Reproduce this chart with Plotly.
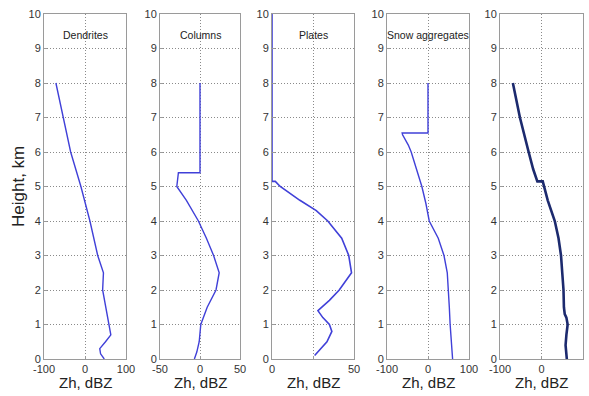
import plotly.graph_objects as go

# ---- data (height km, Zh dBZ) ----
dend_h = [8, 7, 6, 5, 4, 3, 2.7, 2.5, 2, 1.5, 1, 0.7, 0.5, 0.3, 0.15, 0]
dend_z = [-71, -53, -35, -10, 12, 31, 40, 45, 43, 50, 57, 63, 50, 36, 38, 47]

col_h = [8, 5.4, 5.4, 5.0, 4.6, 4, 3.5, 3, 2.5, 2, 1.5, 1, 0.5, 0.2, 0]
col_z = [0, 0, -27, -29, -17, -2, 8, 17, 24, 20, 9, 1, -1, -4, -7]

pla_h = [10, 5.15, 5.15, 5.0, 4.6, 4.3, 4, 3.5, 3, 2.5, 2, 1.7, 1.4, 1.2, 1.0, 0.8, 0.5, 0.1]
pla_z = [0, 0, 2, 5, 17, 27, 34, 42.5, 46.8, 48.5, 41, 35, 28, 31, 35, 36.5, 33.5, 26]

snow_h = [8, 6.55, 6.55, 6.5, 6.2, 6, 5.5, 5, 4.5, 4, 3.5, 3, 2.5, 2, 1.5, 1, 0.5, 0]
snow_z = [0, 0, -63, -62, -48, -41, -28, -15, -5, 3, 25, 39, 47, 50, 52, 54, 57, 60]

tot_h = [8, 7, 6, 5.5, 5.15, 5.15, 4.6, 4, 3.5, 3, 2.5, 2, 1.5, 1.3, 1.2, 1, 0.7, 0.4, 0]
tot_z = [-69, -52, -31, -20, -10, 3, 15, 32, 41, 47, 50, 53, 54, 56, 60, 63, 60, 58, 61]

titles = ["Dendrites", "Columns", "Plates", "Snow aggregates", ""]
xranges = [[-100, 100], [-50, 50], [0, 50], [-100, 100], [-100, 100]]
xtickvals = [[-100, 0, 100], [-50, 0, 50], [0, 25, 50], [-100, 0, 100], [-100, 0, 100]]
xticktext = [["-100", "0", "100"], ["-50", "0", "50"], ["0", "", "50"],
             ["-100", "0", "100"], ["-100", "0", "100"]]
ytickvals = list(range(0, 11))

series = [(dend_z, dend_h), (col_z, col_h), (pla_z, pla_h), (snow_z, snow_h), (tot_z, tot_h)]
colors = ["#4040d8", "#4040d8", "#4040d8", "#4040d8", "#1c2a6e"]
widths = [1.4, 1.4, 1.6, 1.4, 2.6]

W, H = 589, 396
lefts = [44, 160, 272, 387, 500]
rights = [126, 240, 354, 469, 583]
top_px, bot_px = 14, 359

fig = go.Figure()
layout = dict(
    width=W, height=H,
    margin=dict(l=0, r=0, t=0, b=0),
    paper_bgcolor="white", plot_bgcolor="white",
    showlegend=False,
    font=dict(family="Liberation Sans, Arial, sans-serif", size=11, color="#333"),
)
annotations = []
for i in range(5):
    n = "" if i == 0 else str(i + 1)
    xs, ys = series[i]
    fig.add_trace(go.Scatter(x=xs, y=ys, mode="lines",
                             line=dict(color=colors[i], width=widths[i]),
                             xaxis="x" + n, yaxis="y" + n))
    common = dict(showline=True, mirror=True, linecolor="#9a9a9a", linewidth=1,
                  showgrid=True, gridcolor="#8a8a8a", griddash="1px,2px", gridwidth=1,
                  zeroline=False, ticks="inside", ticklen=3, tickcolor="#9a9a9a",
                  automargin=False,
                  tickfont=dict(size=11, color="#333"))
    layout["xaxis" + n] = dict(domain=[lefts[i] / W, rights[i] / W], range=xranges[i],
                               tickvals=xtickvals[i], ticktext=xticktext[i],
                               anchor="y" + n, **common)
    layout["yaxis" + n] = dict(domain=[(H - bot_px) / H, (H - top_px) / H], range=[0, 10],
                               tickvals=ytickvals, anchor="x" + n, **common)
    if titles[i]:
        annotations.append(dict(text=titles[i], x=0.5, y=9.4, xref=("x" + n + " domain"),
                                yref="y" + n, showarrow=False, xanchor="center", yanchor="middle",
                                font=dict(size=10.5, color="#222")))
    annotations.append(dict(text="Zh, dBZ", x=(lefts[i] + rights[i]) / 2 / W, y=(H - 382) / H,
                            xref="paper", yref="paper", showarrow=False,
                            xanchor="center", yanchor="middle",
                            font=dict(size=15, color="#222")))

annotations.append(dict(text="Height, km", x=18 / W, y=(H - 187) / H, xref="paper", yref="paper",
                        showarrow=False, textangle=-90, xanchor="center", yanchor="middle",
                        font=dict(size=17, color="#222")))
layout["annotations"] = annotations
fig.update_layout(**layout)
fig.write_html("out.html")
